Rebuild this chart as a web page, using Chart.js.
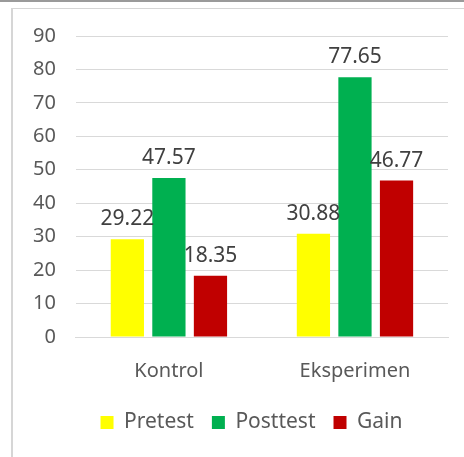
<!DOCTYPE html>
<html>
<head>
<meta charset="utf-8">
<script src="https://cdn.jsdelivr.net/npm/chart.js@4.4.0/dist/chart.umd.min.js"></script>
<style>
  html, body { margin: 0; padding: 0; background: #fff; }
  body { width: 464px; height: 457px; position: relative; overflow: hidden; }
  #topline { position: absolute; left: 0; top: 0; width: 464px; height: 2px; background: #9a9a9a; }
  #frame { position: absolute; left: 11px; top: 8px; width: 453px; height: 449px;
           border-left: 2px solid #d6d6d6; border-top: 1px solid #d6d6d6; box-sizing: border-box; }
  #wrap { position: absolute; left: 13px; top: 9px; width: 451px; height: 448px; }
</style>
</head>
<body>
<div id="topline"></div>
<div id="frame"></div>
<div id="wrap"><canvas id="chart"></canvas></div>
<script>
// kategori dan nilai
var categories = ["Kontrol", "Eksperimen"];
var pretest = [29.22, 30.88];
var posttest = [47.57, 77.65];
var gain = [18.35, 46.77];
var seriesNames = ["Pretest", "Posttest", "Gain"];
var yTicks = [0, 10, 20, 30, 40, 50, 60, 70, 80, 90];

var fontFamily = "'Noto Sans', 'Open Sans', sans-serif";

// label angka di atas batang
var valueLabels = {
    id: "valueLabels",
    afterDatasetsDraw: function (chart) {
        var ctx = chart.ctx;
        ctx.save();
        ctx.font = "21px " + fontFamily;
        ctx.fillStyle = "#404040";
        ctx.textAlign = "center";
        ctx.textBaseline = "alphabetic";
        chart.data.datasets.forEach(function (ds, i) {
            var meta = chart.getDatasetMeta(i);
            meta.data.forEach(function (bar, j) {
                ctx.fillText(ds.data[j].toFixed(2), bar.x, bar.y - 14);
            });
        });
        ctx.restore();
    }
};

// geser legenda sedikit ke kanan
var shiftLegend = {
    id: "shiftLegend",
    afterLayout: function (chart) {
        if (chart.legend) {
            chart.legend.left += 21;
            chart.legend.right += 21;
        }
    }
};

var data = {
    labels: categories,
    datasets: [
        { label: seriesNames[0], data: pretest, backgroundColor: "#FFFF00" },
        { label: seriesNames[1], data: posttest, backgroundColor: "#00B050" },
        { label: seriesNames[2], data: gain, backgroundColor: "#C00000" }
    ]
};

var ctx = document.getElementById("chart").getContext("2d");
var chart = new Chart(ctx, {
    type: "bar",
    data: data,
    options: {
        responsive: true,
        maintainAspectRatio: false,
        animation: false,
        layout: { padding: { top: 27, right: 16, left: 0, bottom: 14 } },
        datasets: { bar: { categoryPercentage: 0.67, barPercentage: 0.8 } },
        plugins: {
            legend: {
                position: "bottom",
                labels: {
                    boxWidth: 13,
                    boxHeight: 13,
                    padding: 18,
                    color: "#595959",
                    font: { size: 21, family: fontFamily }
                }
            },
            tooltip: { enabled: false }
        },
        scales: {
            x: {
                grid: { display: false, drawTicks: false },
                border: { display: true, color: "#d9d9d9" },
                ticks: { color: "#595959", padding: 22, font: { size: 20, family: fontFamily } },
                afterFit: function (axis) { axis.height = axis.height - 11; }
            },
            y: {
                min: 0,
                max: 90,
                afterBuildTicks: function (axis) {
                    axis.ticks = yTicks.map(function (v) { return { value: v }; });
                },
                afterFit: function (axis) { axis.paddingTop = 0; },
                grid: { color: "#d9d9d9", drawTicks: false },
                border: { display: false },
                ticks: { color: "#595959", padding: 20, font: { size: 20, family: fontFamily } }
            }
        }
    },
    plugins: [valueLabels, shiftLegend]
});
</script>
</body>
</html>
